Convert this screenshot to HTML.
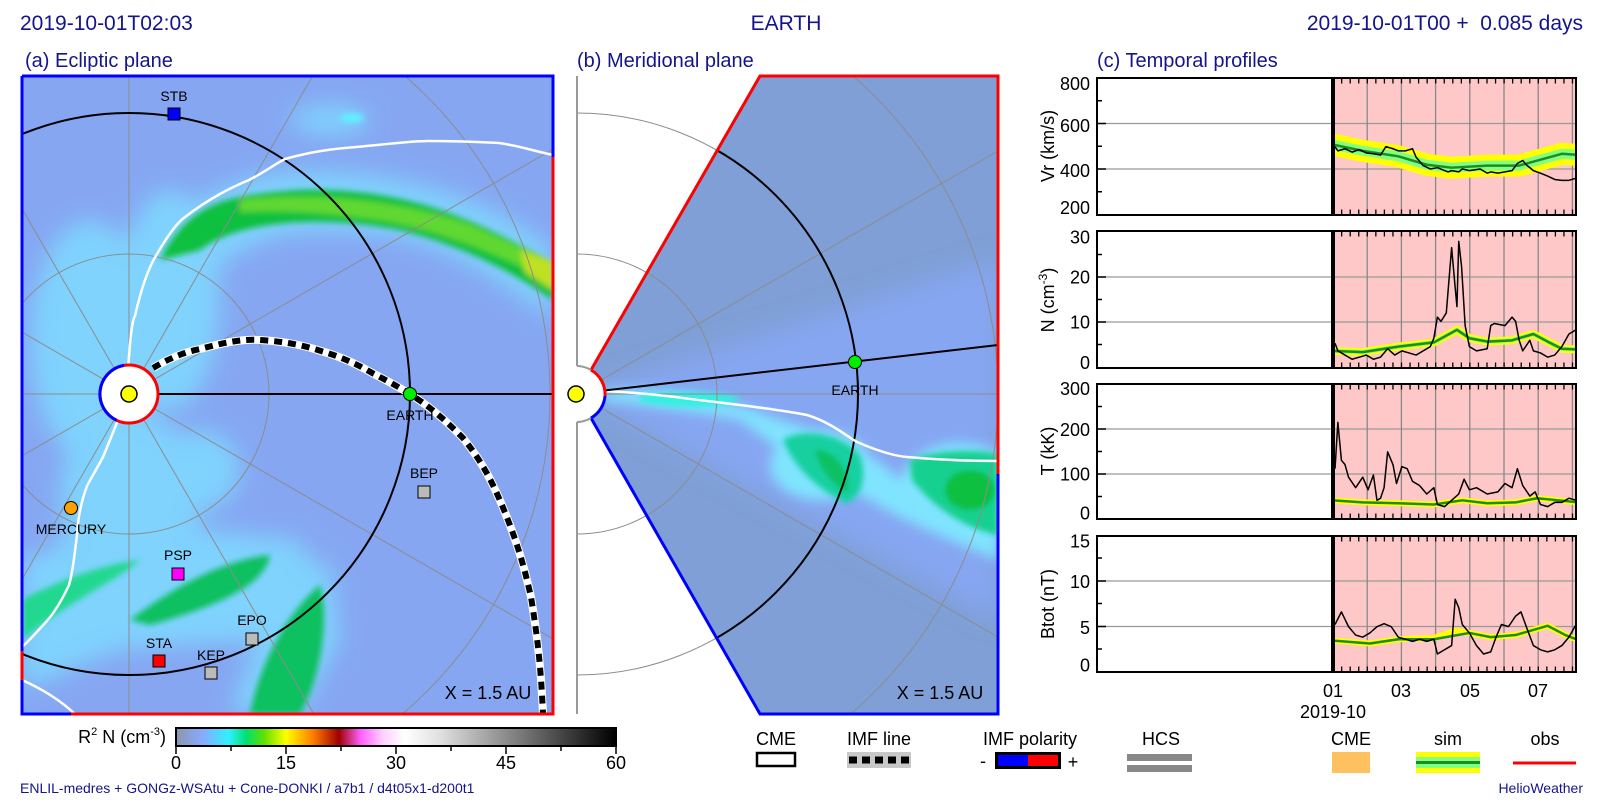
<!DOCTYPE html>
<html><head><meta charset="utf-8"><style>
html,body{margin:0;padding:0;background:#fff;overflow:hidden;}
svg{display:block;font-family:"Liberation Sans",sans-serif;}
</style></head><body>
<svg width="1600" height="800" viewBox="0 0 1600 800" xmlns="http://www.w3.org/2000/svg">
<defs>
<clipPath id="ca"><rect x="22" y="76" width="531" height="638"/></clipPath>
<clipPath id="cb"><polygon points="577,394 760,76 998,76 998,714 760,714"/></clipPath>
<clipPath id="cbw"><rect x="577" y="76" width="421" height="638"/></clipPath>
<clipPath id="cp1"><rect x="1335" y="78" width="241" height="137"/></clipPath>
<clipPath id="cp2"><rect x="1335" y="231" width="241" height="137"/></clipPath>
<clipPath id="cp3"><rect x="1335" y="384" width="241" height="135"/></clipPath>
<clipPath id="cp4"><rect x="1335" y="536" width="241" height="136"/></clipPath>
<filter id="b6" x="-50%" y="-50%" width="200%" height="200%"><feGaussianBlur stdDeviation="6"/></filter>
<filter id="b12" x="-50%" y="-50%" width="200%" height="200%"><feGaussianBlur stdDeviation="12"/></filter>
<filter id="b3" x="-50%" y="-50%" width="200%" height="200%"><feGaussianBlur stdDeviation="3"/></filter>
<linearGradient id="cbar" x1="0" x2="1" y1="0" y2="0">
<stop offset="0" stop-color="#8a96b0"/>
<stop offset="0.06" stop-color="#88aaff"/>
<stop offset="0.12" stop-color="#30f0ff"/>
<stop offset="0.16" stop-color="#00e070"/>
<stop offset="0.20" stop-color="#60e000"/>
<stop offset="0.25" stop-color="#ffff00"/>
<stop offset="0.31" stop-color="#ff8000"/>
<stop offset="0.37" stop-color="#a00000"/>
<stop offset="0.42" stop-color="#ff60ff"/>
<stop offset="0.47" stop-color="#ffd0ff"/>
<stop offset="0.52" stop-color="#ffffff"/>
<stop offset="0.6" stop-color="#e0e0e0"/>
<stop offset="1" stop-color="#000000"/>
</linearGradient>
</defs>

<g fill="#14148c" font-size="21">
<text x="20" y="30">2019-10-01T02:03</text>
<text x="786" y="30" text-anchor="middle">EARTH</text>
<text x="1583" y="30" text-anchor="end" xml:space="preserve">2019-10-01T00 +  0.085 days</text>
<text x="25" y="67" font-size="20">(a) Ecliptic plane</text>
<text x="577" y="67" font-size="20">(b) Meridional plane</text>
<text x="1097" y="67" font-size="20">(c) Temporal profiles</text>
</g>

<!-- Panel A -->
<g clip-path="url(#ca)">
<rect x="22" y="76" width="531" height="638" fill="#86a6f2"/>
<g filter="url(#b12)" fill="#7fd8ff" opacity="0.9">
<ellipse cx="90" cy="340" rx="60" ry="120"/>
<ellipse cx="170" cy="300" rx="50" ry="110"/>
<ellipse cx="129" cy="500" rx="70" ry="90"/>
<path d="M22,560 L120,520 L300,540 L330,600 L260,640 L120,650 L22,690Z"/>
<path d="M230,714 L280,580 L330,560 L340,640 L300,714Z"/>
<path d="M150,250 C200,170 300,160 400,180 C470,195 520,220 553,250 L553,320 C500,280 440,240 380,235 C300,225 240,230 190,300 Z"/>
<ellipse cx="200" cy="470" rx="40" ry="40"/>
<ellipse cx="330" cy="120" rx="40" ry="15"/>
</g>
<g filter="url(#b3)">
<path d="M160,260 C190,200 230,195 300,190 C380,188 440,205 500,235 L553,262 L553,300 C510,270 460,245 400,230 C320,215 240,220 200,250 Z" fill="#10c040"/>
<path d="M240,200 C320,192 400,200 470,225 L553,262 L553,282 C500,255 440,230 380,220 C320,212 280,210 240,212 Z" fill="#60d830"/>
<path d="M520,250 L553,262 L553,290 L525,272Z" fill="#c0e020"/>
<path d="M130,620 C170,590 220,560 270,555 C265,585 220,605 150,625Z" fill="#10c060"/>
<path d="M250,714 C260,660 290,610 320,585 C330,620 320,680 300,714Z" fill="#10c060"/>
<path d="M22,600 C60,580 100,565 140,560 C110,585 70,600 22,640Z" fill="#20d890"/>
<ellipse cx="352" cy="118" rx="12" ry="5" fill="#60f0ff"/>
</g>
<g stroke="#8c8c8c" stroke-width="1" fill="none">
<circle cx="129" cy="394" r="140"/>
<circle cx="129" cy="394" r="421"/>
<line x1="129" y1="394" x2="129" y2="-600"/>
<line x1="129" y1="394" x2="129" y2="1400"/>
<line x1="129" y1="394" x2="-900" y2="394"/>
<line x1="129" y1="394" x2="629" y2="-472"/>
<line x1="129" y1="394" x2="995" y2="-106"/>
<line x1="129" y1="394" x2="995" y2="894"/>
<line x1="129" y1="394" x2="629" y2="1260"/>
<line x1="129" y1="394" x2="-371" y2="-472"/>
<line x1="129" y1="394" x2="-737" y2="-106"/>
<line x1="129" y1="394" x2="-737" y2="894"/>
<line x1="129" y1="394" x2="-371" y2="1260"/>
</g>
<circle cx="129" cy="394" r="281" fill="none" stroke="#000" stroke-width="2"/>
<line x1="129" y1="394" x2="553" y2="394" stroke="#000" stroke-width="2"/>
<g fill="none" stroke="#fff" stroke-width="2.5">
<path d="M128,370 C130,340 132,320 135,316 C142,285 150,265 157,254 C168,235 178,222 185,217 C210,198 230,188 249,180 C265,172 275,164 285,159 C310,152 330,149 356,147 C390,144 410,141 428,141 C460,141 480,142 499,143 C520,146 530,150 553,155"/>
<path d="M118,420 C110,440 106,450 103,457 C95,472 90,480 87,486 C80,505 78,520 77,535 C74,560 72,575 69,585 C62,600 55,612 46,622 C35,634 28,642 22,647"/>
<path d="M22,680 C40,688 60,700 75,714"/>
</g>
<path d="M153,368 C175,355 190,351 200,349 C230,341 245,339 260,340 C290,342 305,346 321,351 C345,358 360,366 374,374 C390,382 400,388 410,394 C435,410 450,425 463,438 C485,465 496,490 506,515 C520,550 526,575 531,597 C538,640 541,670 543,714" fill="none" stroke="#fff" stroke-width="8"/>
<path d="M153,368 C175,355 190,351 200,349 C230,341 245,339 260,340 C290,342 305,346 321,351 C345,358 360,366 374,374 C390,382 400,388 410,394 C435,410 450,425 463,438 C485,465 496,490 506,515 C520,550 526,575 531,597 C538,640 541,670 543,714" fill="none" stroke="#000" stroke-width="6" stroke-dasharray="8 6"/>
</g>
<g fill="none" stroke-width="3">
<path d="M22,76 L553,76 L553,157" stroke="#0000ff"/>
<path d="M553,157 L553,714 L71,714" stroke="#ff0000"/>
<path d="M71,714 L22,714 L22,680" stroke="#0000ff"/>
<path d="M22,680 L22,651" stroke="#ff0000"/>
<path d="M22,651 L22,76" stroke="#0000ff"/>
</g>
<circle cx="129" cy="394" r="29" fill="#fff" stroke="#ff0000" stroke-width="3"/>
<path d="M124,365.4 A29,29 0 0 0 116.7,420.3" fill="none" stroke="#0000ff" stroke-width="3"/>
<circle cx="129" cy="394" r="8" fill="#ffff00" stroke="#000" stroke-width="1.5"/>
<g font-size="14" fill="#000" text-anchor="middle">
<rect x="168" y="108" width="12" height="12" fill="#0000ff" stroke="#000"/><text x="174" y="101">STB</text>
<circle cx="410" cy="394" r="6.5" fill="#00ee00" stroke="#000"/><text x="410" y="420">EARTH</text>
<circle cx="71" cy="508" r="6.5" fill="#ffa000" stroke="#000"/><text x="71" y="534">MERCURY</text>
<rect x="172" y="568" width="12" height="12" fill="#ff00ff" stroke="#000"/><text x="178" y="560">PSP</text>
<rect x="153" y="655" width="12" height="12" fill="#ff0000" stroke="#000"/><text x="159" y="648">STA</text>
<rect x="205" y="667" width="12" height="12" fill="#bbbbbb" stroke="#000"/><text x="211" y="660">KEP</text>
<rect x="246" y="633" width="12" height="12" fill="#bbbbbb" stroke="#000"/><text x="252" y="625">EPO</text>
<rect x="418" y="486" width="12" height="12" fill="#bbbbbb" stroke="#000"/><text x="424" y="478">BEP</text>
<text x="488" y="699" font-size="18">X = 1.5 AU</text>
</g>

<!-- Panel B -->
<g clip-path="url(#cbw)" stroke="#8c8c8c" fill="none">
<circle cx="577" cy="394" r="140"/>
<circle cx="577" cy="394" r="281"/>
</g>
<line x1="577" y1="76" x2="577" y2="366" stroke="#999" stroke-width="2"/>
<line x1="577" y1="422" x2="577" y2="714" stroke="#999" stroke-width="2"/>
<g clip-path="url(#cb)">
<rect x="560" y="76" width="440" height="640" fill="#7f9fd6"/>
<path d="M577,394 L998,260 L998,620 Z" fill="#86a6f2" filter="url(#b12)"/>
<g filter="url(#b6)" fill="#80e4ff">
<path d="M600,392 C650,385 720,395 780,420 C850,440 880,460 900,480 L998,470 L998,560 C950,540 900,520 870,500 C820,480 780,450 740,420 C690,410 640,405 600,400Z"/>
<ellipse cx="820" cy="465" rx="50" ry="35"/>
<ellipse cx="960" cy="488" rx="60" ry="45"/>
</g>
<g filter="url(#b3)">
<path d="M783,440 C800,428 840,432 860,455 C868,480 860,500 845,503 C820,490 795,470 783,440Z" fill="#18d0a0"/>
<path d="M815,450 C835,450 850,470 848,492 C835,488 820,470 815,450Z" fill="#10c060"/>
<path d="M910,460 C940,448 990,450 998,455 L998,535 C970,530 935,510 912,480Z" fill="#18d090"/>
<ellipse cx="970" cy="490" rx="25" ry="20" fill="#10c040"/>
<path d="M640,395 C680,390 720,392 740,398 C730,408 690,410 640,402Z" fill="#30f0e0"/>
</g>
<g stroke="#8c8c8c" fill="none">
<circle cx="577" cy="394" r="140"/>
<circle cx="577" cy="394" r="421"/>
<line x1="577" y1="394" x2="1100" y2="394"/>
<line x1="577" y1="394" x2="1100" y2="92"/>
<line x1="577" y1="394" x2="1100" y2="696"/>
</g>
<circle cx="577" cy="394" r="281" fill="none" stroke="#000" stroke-width="2"/>
<path d="M603,391 C650,393 680,398 707,401 C750,406 780,410 807,415 C830,422 845,435 857,442 C880,452 895,456 907,457 C940,460 970,461 998,461" fill="none" stroke="#fff" stroke-width="2.5"/>
<line x1="600" y1="391" x2="998" y2="345" stroke="#000" stroke-width="2"/>
</g>
<g fill="none" stroke-width="3">
<path d="M591,370 L760,76 L998,76 L998,474" stroke="#ff0000"/>
<path d="M998,474 L998,714 L760,714 L591,418" stroke="#0000ff"/>
</g>
<path d="M577,366 A28,28 0 0 1 577,422 Z" fill="#fff"/>
<path d="M577,366 A28,28 0 0 1 591,370" fill="none" stroke="#999" stroke-width="2"/>
<path d="M591,418 A28,28 0 0 1 577,422" fill="none" stroke="#999" stroke-width="2"/>
<path d="M591,370 A28,28 0 0 1 605,396" fill="none" stroke="#ff0000" stroke-width="3"/>
<path d="M605,396 A28,28 0 0 1 591,418" fill="none" stroke="#0000ff" stroke-width="3"/>
<circle cx="576" cy="394" r="8" fill="#ffff00" stroke="#000" stroke-width="1.5"/>
<circle cx="855" cy="362" r="6.5" fill="#00ee00" stroke="#000"/>
<text x="855" y="395" font-size="14" text-anchor="middle">EARTH</text>
<text x="940" y="699" font-size="18" text-anchor="middle">X = 1.5 AU</text>

<!-- Panel C -->
<g fill="#ffc8c8">
<rect x="1333" y="78" width="243" height="137"/>
<rect x="1333" y="231" width="243" height="137"/>
<rect x="1333" y="384" width="243" height="135"/>
<rect x="1333" y="536" width="243" height="136"/>
</g>
<g stroke="#999" stroke-width="1.3">
<line x1="1097" y1="123.5" x2="1576" y2="123.5"/><line x1="1097" y1="169" x2="1576" y2="169"/>
<line x1="1097" y1="277" x2="1576" y2="277"/><line x1="1097" y1="322" x2="1576" y2="322"/>
<line x1="1097" y1="429" x2="1576" y2="429"/><line x1="1097" y1="474" x2="1576" y2="474"/>
<line x1="1097" y1="581" x2="1576" y2="581"/><line x1="1097" y1="626.5" x2="1576" y2="626.5"/>
</g>
<g stroke="#888" stroke-width="1.3">
<path d="M1367.2,78V215M1401.4,78V215M1435.6,78V215M1469.8,78V215M1504,78V215M1538.2,78V215M1572.4,78V215"/>
<path d="M1367.2,231V368M1401.4,231V368M1435.6,231V368M1469.8,231V368M1504,231V368M1538.2,231V368M1572.4,231V368"/>
<path d="M1367.2,384V519M1401.4,384V519M1435.6,384V519M1469.8,384V519M1504,384V519M1538.2,384V519M1572.4,384V519"/>
<path d="M1367.2,536V672M1401.4,536V672M1435.6,536V672M1469.8,536V672M1504,536V672M1538.2,536V672M1572.4,536V672"/>
</g>
<g clip-path="url(#cp1)"><g transform="translate(1042.8,60.32) scale(0.3555,0.42105)" fill="none" stroke-linejoin="round">
<polyline vector-effect="non-scaling-stroke" stroke="#ffff00" stroke-width="22" points="815,200 900,215 1000,228 1080,248 1150,255 1250,250 1340,250 1400,236 1460,222 1510,225"/>
<polyline vector-effect="non-scaling-stroke" stroke="#80ff80" stroke-width="10" points="815,200 900,215 1000,228 1080,248 1150,255 1250,250 1340,250 1400,236 1460,222 1510,225"/>
<polyline vector-effect="non-scaling-stroke" stroke="#1e8c1e" stroke-width="2.5" points="815,200 900,215 1000,228 1080,248 1150,255 1250,250 1340,250 1400,236 1460,222 1510,225"/>
<polyline vector-effect="non-scaling-stroke" stroke="#000" stroke-width="1.5" points="822,205 830,215 850,210 870,218 890,212 910,220 930,222 950,225 965,205 985,210 1000,215 1020,215 1040,210 1050,230 1070,250 1090,258 1110,255 1140,265 1150,262 1170,265 1180,258 1200,262 1230,258 1250,268 1260,265 1280,268 1300,265 1320,262 1335,245 1350,238 1360,248 1380,262 1400,268 1420,275 1440,283 1460,285 1480,285 1500,280"/>
</g></g>
<g clip-path="url(#cp2)"><g transform="translate(1042.8,60.32) scale(0.3555,0.42105)" fill="none" stroke-linejoin="round">
<polyline vector-effect="non-scaling-stroke" stroke="#ffff00" stroke-width="8" points="815,690 900,693 1000,680 1100,670 1165,640 1200,660 1250,668 1320,665 1380,650 1420,668 1460,685 1510,687"/>
<polyline vector-effect="non-scaling-stroke" stroke="#80ff80" stroke-width="4" points="815,690 900,693 1000,680 1100,670 1165,640 1200,660 1250,668 1320,665 1380,650 1420,668 1460,685 1510,687"/>
<polyline vector-effect="non-scaling-stroke" stroke="#1e8c1e" stroke-width="2.5" points="815,690 900,693 1000,680 1100,670 1165,640 1200,660 1250,668 1320,665 1380,650 1420,668 1460,685 1510,687"/>
<polyline vector-effect="non-scaling-stroke" stroke="#000" stroke-width="1.5" points="822,672 830,690 850,700 870,710 890,705 910,700 930,710 950,705 970,685 990,700 1010,690 1030,695 1050,700 1070,690 1090,680 1100,660 1110,610 1120,620 1135,600 1150,445 1160,540 1165,585 1170,430 1178,490 1188,630 1200,680 1220,690 1250,685 1260,630 1270,625 1300,630 1320,610 1330,620 1340,665 1350,690 1370,665 1380,690 1400,695 1420,705 1440,700 1460,680 1480,650 1500,640"/>
</g></g>
<g clip-path="url(#cp3)"><g transform="translate(1042.8,60.32) scale(0.3555,0.42105)" fill="none" stroke-linejoin="round">
<polyline vector-effect="non-scaling-stroke" stroke="#ffff00" stroke-width="6" points="815,1045 900,1050 1000,1052 1100,1055 1180,1045 1250,1052 1330,1050 1390,1040 1450,1045 1510,1050"/>
<polyline vector-effect="non-scaling-stroke" stroke="#1e8c1e" stroke-width="2.5" points="815,1045 900,1050 1000,1052 1100,1055 1180,1045 1250,1052 1330,1050 1390,1040 1450,1045 1510,1050"/>
<polyline vector-effect="non-scaling-stroke" stroke="#000" stroke-width="1.5" points="822,970 830,860 840,950 850,960 860,990 880,1015 900,990 915,1020 930,985 940,1045 950,1040 960,1015 970,930 985,960 995,1005 1010,965 1025,970 1040,1000 1060,1010 1080,1030 1100,1015 1110,1055 1130,1060 1150,1045 1170,1030 1185,995 1200,1020 1220,1015 1250,1030 1280,1025 1300,1005 1320,1015 1335,970 1350,1010 1370,1035 1385,1025 1400,1055 1420,1060 1440,1050 1460,1050 1480,1040 1500,1045"/>
</g></g>
<g clip-path="url(#cp4)"><g transform="translate(1042.8,60.32) scale(0.3555,0.42105)" fill="none" stroke-linejoin="round">
<polyline vector-effect="non-scaling-stroke" stroke="#ffff00" stroke-width="6" points="815,1378 920,1385 1000,1375 1100,1372 1160,1355 1200,1360 1260,1370 1330,1365 1420,1343 1470,1365 1510,1378"/>
<polyline vector-effect="non-scaling-stroke" stroke="#1e8c1e" stroke-width="2.5" points="815,1378 920,1385 1000,1375 1100,1375 1200,1360 1260,1370 1330,1365 1420,1343 1470,1365 1510,1378"/>
<polyline vector-effect="non-scaling-stroke" stroke="#000" stroke-width="1.5" points="822,1340 840,1310 860,1345 880,1365 900,1370 920,1360 940,1345 960,1338 980,1345 1000,1370 1020,1375 1040,1380 1060,1375 1080,1380 1100,1375 1110,1410 1130,1400 1150,1390 1160,1280 1170,1300 1180,1340 1200,1360 1220,1390 1240,1410 1260,1405 1275,1370 1290,1340 1310,1345 1330,1320 1345,1310 1360,1345 1380,1390 1400,1400 1420,1405 1440,1400 1460,1390 1480,1370 1500,1340"/>
</g></g>
<g stroke="#000" stroke-width="4">
<line x1="1333" y1="78" x2="1333" y2="215"/><line x1="1333" y1="231" x2="1333" y2="368"/>
<line x1="1333" y1="384" x2="1333" y2="519"/><line x1="1333" y1="536" x2="1333" y2="672"/>
</g>
<g stroke="#000" stroke-width="5" stroke-dasharray="1.3 7.25">
<line x1="1341" y1="81" x2="1576" y2="81"/><line x1="1341" y1="212" x2="1576" y2="212"/>
<line x1="1341" y1="234" x2="1576" y2="234"/><line x1="1341" y1="365" x2="1576" y2="365"/>
<line x1="1341" y1="387" x2="1576" y2="387"/><line x1="1341" y1="516" x2="1576" y2="516"/>
<line x1="1341" y1="539" x2="1576" y2="539"/><line x1="1341" y1="669" x2="1576" y2="669"/>
</g>
<g stroke="#000" stroke-width="1.5">
<path d="M1097,123.5h9M1097,169h9M1097,100.8h5M1097,146.3h5M1097,191.8h5"/>
<path d="M1097,277h9M1097,322h9M1097,254.5h5M1097,299.5h5M1097,344.5h5"/>
<path d="M1097,429h9M1097,474h9M1097,406.5h5M1097,451.5h5M1097,496.5h5"/>
<path d="M1097,581h9M1097,626.5h9M1097,558h5M1097,603.5h5M1097,649h5"/>
</g>
<g fill="none" stroke="#000" stroke-width="2">
<rect x="1097" y="78" width="479" height="137"/>
<rect x="1097" y="231" width="479" height="137"/>
<rect x="1097" y="384" width="479" height="135"/>
<rect x="1097" y="536" width="479" height="136"/>
</g>
<g font-size="18" text-anchor="end" fill="#000">
<text x="1090" y="90">800</text><text x="1090" y="132">600</text><text x="1090" y="177">400</text><text x="1090" y="214">200</text>
<text x="1090" y="243.5">30</text><text x="1090" y="283.5">20</text><text x="1090" y="328.5">10</text><text x="1090" y="369">0</text>
<text x="1090" y="395">300</text><text x="1090" y="436">200</text><text x="1090" y="480.5">100</text><text x="1090" y="519.5">0</text>
<text x="1090" y="547.5">15</text><text x="1090" y="588">10</text><text x="1090" y="634">5</text><text x="1090" y="671.5">0</text>
</g>
<g font-size="18" text-anchor="middle" fill="#000">
<text transform="translate(1054,146) rotate(-90)">Vr (km/s)</text>
<text transform="translate(1054,300) rotate(-90)">N (cm<tspan font-size="12" dy="-7">-3</tspan><tspan dy="7">)</tspan></text>
<text transform="translate(1054,451) rotate(-90)">T (kK)</text>
<text transform="translate(1054,604) rotate(-90)">Btot (nT)</text>
<text x="1333" y="697">01</text><text x="1401" y="697">03</text><text x="1470" y="697">05</text><text x="1538" y="697">07</text>
<text x="1333" y="718">2019-10</text>
</g>

<!-- Colorbar -->
<rect x="176" y="728" width="440" height="18" fill="url(#cbar)" stroke="#000" stroke-width="2"/>
<g stroke="#000" stroke-width="1.5">
<path d="M176,746v8M231,746v5M286,746v8M341,746v5M396,746v8M451,746v5M506,746v8M561,746v5M616,746v8"/>
</g>
<g font-size="18" text-anchor="middle" fill="#000">
<text x="176" y="769">0</text><text x="286" y="769">15</text><text x="396" y="769">30</text><text x="506" y="769">45</text><text x="616" y="769">60</text>
<text x="166" y="743" text-anchor="end">R<tspan font-size="11" dy="-8">2</tspan><tspan dy="8"> N (cm</tspan><tspan font-size="11" dy="-8">-3</tspan><tspan dy="8">)</tspan></text>
</g>

<!-- Legend -->
<g font-size="18" text-anchor="middle" fill="#000">
<text x="776" y="745">CME</text>
<text x="879" y="745">IMF line</text>
<text x="1030" y="745">IMF polarity</text>
<text x="1161" y="745">HCS</text>
<text x="1351" y="745">CME</text>
<text x="1448" y="745">sim</text>
<text x="1545" y="745">obs</text>
<text x="983" y="767">-</text><text x="1073" y="768">+</text>
</g>
<rect x="757" y="753" width="38" height="13" fill="#fff" stroke="#000" stroke-width="2.5"/>
<rect x="847" y="752" width="64" height="16" fill="#c8c8c8"/>
<line x1="849" y1="760" x2="909" y2="760" stroke="#000" stroke-width="7" stroke-dasharray="8 5"/>
<rect x="995" y="752" width="66" height="17" fill="#000"/>
<rect x="998" y="755" width="30" height="11" fill="#0000ff"/>
<rect x="1028" y="755" width="30" height="11" fill="#ff0000"/>
<rect x="1127" y="754" width="65" height="7" fill="#888"/>
<rect x="1127" y="765" width="65" height="7" fill="#888"/>
<rect x="1332" y="752" width="38" height="21" fill="#ffc060"/>
<rect x="1416" y="752" width="64" height="21" fill="#ffff00"/>
<rect x="1416" y="757" width="64" height="11" fill="#80ff80"/>
<rect x="1416" y="761" width="64" height="3" fill="#1e8c1e"/>
<line x1="1513" y1="763" x2="1576" y2="763" stroke="#ff0000" stroke-width="3"/>

<g fill="#14148c" font-size="14">
<text x="20" y="793">ENLIL-medres + GONGz-WSAtu + Cone-DONKI / a7b1 / d4t05x1-d200t1</text>
<text x="1583" y="793" text-anchor="end">HelioWeather</text>
</g>
</svg>
</body></html>
